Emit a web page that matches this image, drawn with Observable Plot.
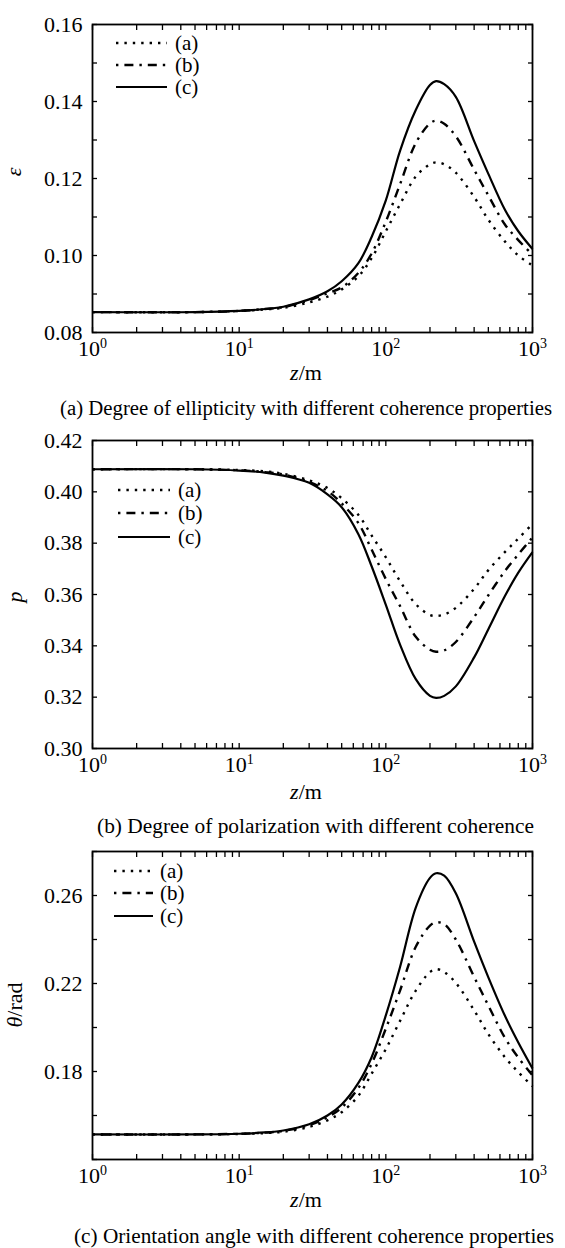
<!DOCTYPE html>
<html><head><meta charset="utf-8">
<script src="https://cdn.jsdelivr.net/npm/d3@7"></script>
<script src="https://cdn.jsdelivr.net/npm/@observablehq/plot@0.6"></script>
<style>
body{margin:0;background:#fff;}
#page{position:relative;width:565px;height:1248px;overflow:hidden;font-family:"Liberation Serif","Times New Roman",serif;background:#fff;}
.panel{position:absolute;left:0;}
#overlay{position:absolute;left:0;top:0;}
</style></head><body><div id="page"></div>
<script>
// ---------------- data ----------------
const z = [1, 5, 10, 15, 20, 30, 40, 50, 65, 80, 100, 125, 160, 200, 220, 250, 300, 400, 500, 650, 800, 1000];

// (a) degree of ellipticity ε
const epsA = [0.0853, 0.0853, 0.0856, 0.0860, 0.0864, 0.0878, 0.0893, 0.0912, 0.0946, 0.0993, 0.1063, 0.1133, 0.1205, 0.1237, 0.1242, 0.1237, 0.1215, 0.1152, 0.1093, 0.1036, 0.1000, 0.0974];
const epsB = [0.0853, 0.0853, 0.0856, 0.0861, 0.0866, 0.0884, 0.0902, 0.0917, 0.0955, 0.1005, 0.1088, 0.1185, 0.1292, 0.1343, 0.1350, 0.1342, 0.1310, 0.1223, 0.1156, 0.1080, 0.1040, 0.1002];
const epsC = [0.0853, 0.0853, 0.0856, 0.0861, 0.0867, 0.0886, 0.0907, 0.0933, 0.0980, 0.1048, 0.1143, 0.1272, 0.1378, 0.1443, 0.1453, 0.1445, 0.1412, 0.1297, 0.1212, 0.1118, 0.1063, 0.1017];

// (b) degree of polarization p
const polA = [0.4088, 0.4088, 0.4085, 0.4080, 0.4070, 0.4045, 0.4015, 0.3975, 0.3910, 0.3830, 0.3745, 0.3652, 0.3562, 0.3520, 0.3517, 0.3522, 0.3548, 0.3622, 0.3695, 0.3766, 0.3818, 0.3875];
const polB = [0.4088, 0.4088, 0.4084, 0.4077, 0.4068, 0.4038, 0.4003, 0.3955, 0.3878, 0.3775, 0.3660, 0.3555, 0.3435, 0.3385, 0.3377, 0.3382, 0.3415, 0.3512, 0.3597, 0.3692, 0.3756, 0.3823];
const polC = [0.4088, 0.4088, 0.4083, 0.4075, 0.4063, 0.4035, 0.3990, 0.3940, 0.3835, 0.3710, 0.3560, 0.3405, 0.3270, 0.3205, 0.3197, 0.3205, 0.3242, 0.3355, 0.3465, 0.3595, 0.3685, 0.3765];

// (c) orientation angle θ
const thA = [0.1514, 0.1514, 0.1516, 0.1520, 0.1526, 0.1548, 0.1578, 0.1615, 0.1690, 0.1790, 0.1902, 0.2030, 0.2168, 0.2252, 0.2265, 0.2252, 0.2203, 0.2078, 0.1970, 0.1864, 0.1797, 0.1733];
const thB = [0.1514, 0.1514, 0.1517, 0.1522, 0.1530, 0.1556, 0.1592, 0.1636, 0.1725, 0.1835, 0.1995, 0.2168, 0.2367, 0.2463, 0.2478, 0.2470, 0.2400, 0.2230, 0.2100, 0.1952, 0.1863, 0.1783];
const thC = [0.1514, 0.1514, 0.1517, 0.1523, 0.1532, 0.1560, 0.1600, 0.1650, 0.1748, 0.1865, 0.2055, 0.2275, 0.2545, 0.2680, 0.2701, 0.2690, 0.2610, 0.2390, 0.2228, 0.2052, 0.1932, 0.1814];

const seriesNames = ["(a)", "(b)", "(c)"];
const xTicks = [1, 10, 100, 1000];
const xTickBase = "10";
const xTickExponents = ["0", "1", "2", "3"];
const xMinorTicks = [1, 2, 3, 4, 5, 6, 7, 8, 9, 10, 20, 30, 40, 50, 60, 70, 80, 90, 100, 200, 300, 400, 500, 600, 700, 800, 900, 1000];

const epsTicks = [0.08, 0.09, 0.10, 0.11, 0.12, 0.13, 0.14, 0.15, 0.16];
const epsTickLabels = [0.08, 0.10, 0.12, 0.14, 0.16];
const polTicks = [0.30, 0.32, 0.34, 0.36, 0.38, 0.40, 0.42];
const polTickLabels = [0.30, 0.32, 0.34, 0.36, 0.38, 0.40, 0.42];
const thTicks = [0.14, 0.16, 0.18, 0.20, 0.22, 0.24, 0.26, 0.28];
const thTickLabels = [0.18, 0.22, 0.26];

const captions = [
  "(a) Degree of ellipticity with different coherence properties",
  "(b) Degree of polarization with different coherence",
  "(c) Orientation angle with different coherence properties"
];

// ---------------- styles ----------------
const lineStyles = [
  {strokeWidth: 2.4, strokeDasharray: "2.4,6"},          // (a) dotted
  {strokeWidth: 2.4, strokeDasharray: "2.4,6,9,6"},      // (b) dash-dot
  {strokeWidth: 2.2, strokeDasharray: null}              // (c) solid
];
const FONT = '"Liberation Serif","Times New Roman",serif';
const NS = "http://www.w3.org/2000/svg";

function makePanel({series, yDomain, yTicks, yLabels, height, mt, mb}) {
  const lines = series.map((vals, i) => {
    const rows = z.map((zz, j) => ({z: zz, v: vals[j], s: seriesNames[i]}));
    const st = lineStyles[i];
    const o = {x: "z", y: "v", curve: "catmull-rom", stroke: "black", strokeWidth: st.strokeWidth, strokeLinecap: "butt"};
    if (st.strokeDasharray) o.strokeDasharray = st.strokeDasharray;
    return Plot.line(rows, o);
  });
  const svg = Plot.plot({
    width: 565, height, marginTop: mt, marginBottom: mb, marginLeft: 92, marginRight: 33,
    style: {fontFamily: FONT, fontSize: "22px", color: "black", background: "transparent", overflow: "visible"},
    x: {type: "log", domain: [1, 1000]},
    y: {domain: yDomain},
    marks: [
      Plot.axisY({ticks: yLabels, tickSize: 0, tickPadding: 10, tickFormat: d => d.toFixed(2), label: null, fontSize: 22}),
      Plot.axisY({ticks: yTicks, tickSize: -5, fill: "none", label: null, strokeWidth: 1.3}),
      Plot.axisY({anchor: "right", ticks: yTicks, tickSize: -5, fill: "none", label: null, strokeWidth: 1.3}),
      Plot.axisX({ticks: xTicks, tickSize: 0, tickPadding: 8, tickFormat: d => xTickBase + "^" + xTickExponents[xTicks.indexOf(d)], label: null, fontSize: 22}),
      Plot.axisX({ticks: xMinorTicks, tickSize: -5, fill: "none", label: null, strokeWidth: 1.3}),
      Plot.axisX({anchor: "top", ticks: xMinorTicks, tickSize: -5, fill: "none", label: null, strokeWidth: 1.3}),
      ...lines,
      Plot.frame({stroke: "black", strokeWidth: 1.8})
    ]
  });
  // turn "10^k" tick texts into a base with a raised exponent
  svg.querySelectorAll("text").forEach(t => {
    const s = t.textContent;
    if (s.includes("^")) {
      const [base, exp] = s.split("^");
      t.textContent = "";
      const b = document.createElementNS(NS, "tspan"); b.textContent = base; t.appendChild(b);
      const e = document.createElementNS(NS, "tspan");
      e.setAttribute("dy", "-8"); e.setAttribute("font-size", "14"); e.textContent = exp;
      t.appendChild(e);
    }
  });
  return svg;
}

const page = document.getElementById("page");
const panels = [
  {series: [epsA, epsB, epsC], yDomain: [0.08, 0.16], yTicks: epsTicks, yLabels: epsTickLabels, top: 0, height: 380, mt: 24, mb: 48},
  {series: [polA, polB, polC], yDomain: [0.30, 0.42], yTicks: polTicks, yLabels: polTickLabels, top: 400, height: 400, mt: 40, mb: 52},
  {series: [thA, thB, thC], yDomain: [0.14, 0.28], yTicks: thTicks, yLabels: thTickLabels, top: 820, height: 400, mt: 31, mb: 61}
];
for (const p of panels) {
  const div = document.createElement("div");
  div.className = "panel";
  div.style.top = p.top + "px";
  div.appendChild(makePanel(p));
  page.appendChild(div);
}

// ---------------- overlay: legends, axis titles, captions ----------------
const ov = document.createElementNS(NS, "svg");
ov.setAttribute("id", "overlay");
ov.setAttribute("width", 565);
ov.setAttribute("height", 1248);
ov.setAttribute("font-family", FONT);
page.appendChild(ov);

function el(tag, attrs, parent = ov) {
  const e = document.createElementNS(NS, tag);
  for (const k in attrs) e.setAttribute(k, attrs[k]);
  parent.appendChild(e);
  return e;
}

const legends = [
  {x1: 116, x2: 167, tx: 175, ys: [43, 65, 87]},
  {x1: 118, x2: 170, tx: 178, ys: [490, 513, 537]},
  {x1: 114, x2: 153, tx: 160, ys: [871, 893, 916]}
];
for (const L of legends) {
  L.ys.forEach((y, i) => {
    const st = lineStyles[i];
    const a = {x1: L.x1, x2: L.x2, y1: y, y2: y, stroke: "black", "stroke-width": st.strokeWidth};
    if (st.strokeDasharray) a["stroke-dasharray"] = st.strokeDasharray;
    el("line", a);
    const t = el("text", {x: L.tx, y: y + 7, "font-size": 21});
    t.textContent = seriesNames[i];
  });
}

// y-axis titles
function yTitle(x, y, parts) {
  const t = el("text", {transform: `translate(${x},${y}) rotate(-90)`, "text-anchor": "middle", "font-size": 22});
  for (const [txt, it] of parts) {
    const s = el("tspan", it ? {"font-style": "italic"} : {}, t);
    s.textContent = txt;
  }
}
yTitle(21, 172, [["ε", true]]);
yTitle(22, 597, [["p", true]]);
yTitle(22, 1005, [["θ", true], ["/rad", false]]);

// x-axis titles
for (const y of [380, 799, 1207]) {
  const t = el("text", {x: 306, y, "text-anchor": "middle", "font-size": 22});
  const a = el("tspan", {"font-style": "italic"}, t); a.textContent = "z";
  const b = el("tspan", {}, t); b.textContent = "/m";
}

// captions
const capPos = [
  {x: 60, y: 415, len: 492},
  {x: 97, y: 833, len: 437},
  {x: 74, y: 1243, len: 480}
];
capPos.forEach((c, i) => {
  const t = el("text", {x: c.x, y: c.y, "font-size": 20, textLength: c.len, lengthAdjust: "spacingAndGlyphs"});
  t.textContent = captions[i];
});
</script>
</body></html>
